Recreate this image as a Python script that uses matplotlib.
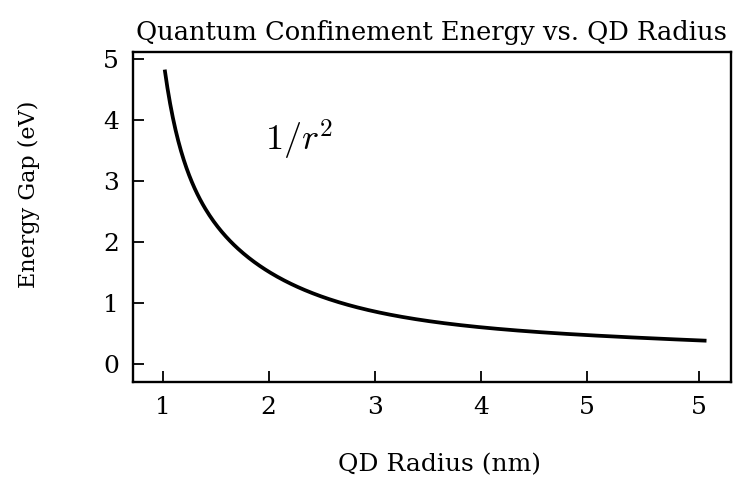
import numpy as np
import matplotlib
matplotlib.use("Agg")
import matplotlib.pyplot as plt

# values
radius = [1.019, 1.050, 1.097, 1.160, 1.207, 1.254, 1.285, 1.379, 1.536, 1.694, 1.882,
          2.117, 2.415, 2.729, 3.040, 3.356, 3.670, 3.984, 4.45, 4.96, 5.55, 6.13]
energy = [4.90, 4.41, 3.97, 3.59, 3.32, 3.13, 2.91, 2.58, 2.20, 1.92, 1.68,
          1.40, 1.13, 0.97, 0.84, 0.75, 0.67, 0.60, 0.53, 0.475, 0.42, 0.38]

xtick_pos = [1, 2, 3, 4, 5, 6.06]
xtick_lab = ["1", "2", "3", "4", "5", "5"]
ytick_pos = [0, 1, 2, 3, 4, 5]

plt.rcParams["font.family"] = ["DejaVu Serif"]
plt.rcParams["mathtext.fontset"] = "cm"

fig = plt.figure(figsize=(7.39, 4.93), dpi=100)
ax = fig.add_axes([0.180, 0.225, 0.809, 0.669])

# smooth curve through the read points (degree-5 fit in log-log space)
coef = np.polyfit(np.log(radius), np.log(energy), 5)
rr = np.linspace(radius[0], radius[-1], 400)
ee = np.exp(np.polyval(coef, np.log(rr)))
ax.plot(rr, ee, color="black", lw=2.7, solid_capstyle="butt")

ax.text(2.29, 3.67, r"$1/r^2$", fontsize=26, ha="center", va="center")

ax.set_xlim(0.72, 6.36)
ax.set_ylim(-0.3, 5.11)
ax.set_xticks(xtick_pos)
ax.set_xticklabels(xtick_lab)
ax.set_yticks(ytick_pos)
ax.tick_params(direction="in", length=8, width=1.3, labelsize=18, pad=10)
for s in ax.spines.values():
    s.set_linewidth(1.7)

ax.set_title("Quantum Confinement Energy vs. QD Radius", fontsize=18.5, pad=9)
ax.set_xlabel("QD Radius (nm)", fontsize=18)
ax.set_ylabel("Energy Gap (eV)", fontsize=16)
ax.xaxis.set_label_coords(0.513, -0.215)
ax.yaxis.set_label_coords(-0.155, 0.57)

fig.savefig("out.png", dpi=100)
